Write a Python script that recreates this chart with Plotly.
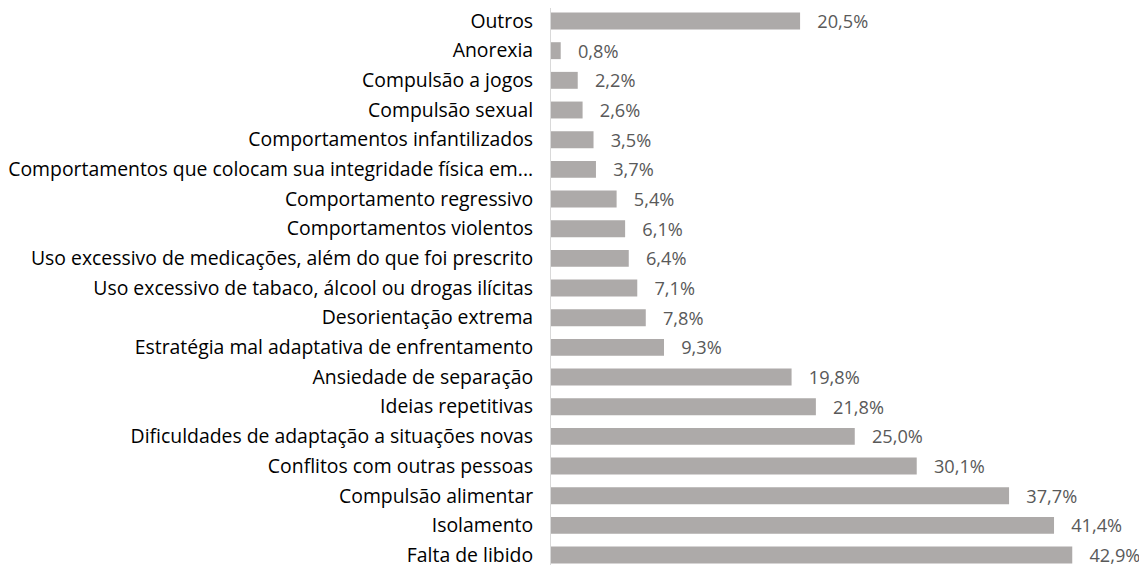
import plotly.graph_objects as go

categories = [
    "Outros",
    "Anorexia",
    "Compulsão a jogos",
    "Compulsão sexual",
    "Comportamentos infantilizados",
    "Comportamentos que colocam sua integridade física em...",
    "Comportamento regressivo",
    "Comportamentos violentos",
    "Uso excessivo de medicações, além do que foi prescrito",
    "Uso excessivo de tabaco, álcool ou drogas ilícitas",
    "Desorientação extrema",
    "Estratégia mal adaptativa de enfrentamento",
    "Ansiedade de separação",
    "Ideias repetitivas",
    "Dificuldades de adaptação a situações novas",
    "Conflitos com outras pessoas",
    "Compulsão alimentar",
    "Isolamento",
    "Falta de libido",
]
values = [20.5, 0.8, 2.2, 2.6, 3.5, 3.7, 5.4, 6.1, 6.4, 7.1, 7.8, 9.3,
          19.8, 21.8, 25.0, 30.1, 37.7, 41.4, 42.9]

labels = ["\u00a0\u00a0\u00a0" + f"{v:.1f}".replace(".", ",") + "%" for v in values]

FONT = "Open Sans"

fig = go.Figure(go.Bar(
    x=values,
    y=list(range(len(categories))),
    orientation="h",
    marker=dict(color="#ADAAA9", line=dict(width=0)),
    text=labels,
    textposition="outside",
    constraintext="none",
    cliponaxis=False,
    textfont=dict(family=FONT, size=18.2, color="#595959"),
    width=0.57,
))

fig.update_layout(
    width=1147, height=565,
    margin=dict(l=543, r=0, t=0, b=0, autoexpand=False),
    paper_bgcolor="white", plot_bgcolor="white",
    showlegend=False,
    font=dict(family=FONT),
    xaxis=dict(range=[0, 49.71], visible=False, showgrid=False,
               zeroline=False, automargin=False),
    yaxis=dict(
        range=[18.605, -0.438],
        tickmode="array",
        tickvals=list(range(len(categories))),
        ticktext=categories,
        tickfont=dict(family=FONT, size=19.4, color="#000000"),
        showline=True, linecolor="#D9D9D9", linewidth=1,
        showgrid=False, zeroline=False, ticks="",
        ticklabelstandoff=13, automargin=False,
        ticklabeloverflow="allow",
    ),
)

fig.write_html("out.html")
